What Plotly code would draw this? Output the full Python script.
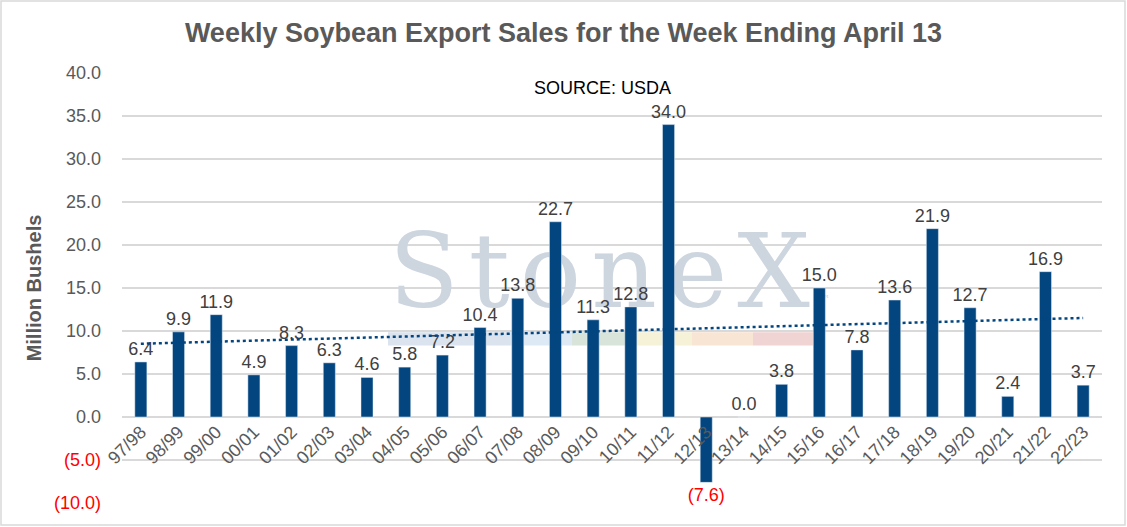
import plotly.graph_objects as go
import numpy as np

seasons = ["97/98", "98/99", "99/00", "00/01", "01/02", "02/03", "03/04", "04/05", "05/06",
           "06/07", "07/08", "08/09", "09/10", "10/11", "11/12", "12/13", "13/14", "14/15",
           "15/16", "16/17", "17/18", "18/19", "19/20", "20/21", "21/22", "22/23"]
sales = [6.4, 9.9, 11.9, 4.9, 8.3, 6.3, 4.6, 5.8, 7.2, 10.4, 13.8, 22.7, 11.3, 12.8, 34.0,
         -7.6, 0.0, 3.8, 15.0, 7.8, 13.6, 21.9, 12.7, 2.4, 16.9, 3.7]
y_ticks = [-10, -5, 0, 5, 10, 15, 20, 25, 30, 35, 40]

bar_col = "#02457F"
grey = "#595959"

def fmt(v):
    if v < 0:
        return "(%.1f)" % abs(v)
    return "%.1f" % v

labels = [fmt(v) for v in sales]
label_cols = ["#FF0000" if v < 0 else "#404040" for v in sales]
tick_text = ["<span style='color:#FF0000'>%s</span>" % fmt(t) if t < 0 else fmt(t) for t in y_ticks]

# linear trend like excel
idx = np.arange(1, len(sales) + 1)
slope, icpt = np.polyfit(idx, sales, 1)
trend = slope * idx + icpt

fig = go.Figure()

# watermark sits on the lower subplot so the bars cover it
fig.add_trace(go.Scatter(
    x=["09/10"], y=[15.7], mode="text",
    text=["&nbsp;<span style='letter-spacing:10px'>StoneX</span><span style='font-size:14px'><sup>™</sup></span>"],
    textfont=dict(family="DejaVu Serif", size=102, color="#CDD5DF"),
    textposition="middle center", hoverinfo="skip", showlegend=False,
    xaxis="x", yaxis="y"))

fig.add_trace(go.Bar(
    x=seasons, y=sales, marker_color=bar_col, text=labels,
    textposition="outside", textfont=dict(size=18, color=label_cols),
    constraintext="none", cliponaxis=False, showlegend=False,
    xaxis="x", yaxis="y2"))

fig.add_trace(go.Scatter(
    x=seasons, y=trend, mode="lines",
    line=dict(color=bar_col, width=2.5, dash="dot"),
    showlegend=False, xaxis="x", yaxis="y2"))

# colour stripe under the logo
stripe = [(388, 510, "#DBE3EE"), (510, 572, "#DDE9F5"), (572, 637, "#D8E4DA"),
          (637, 692, "#F5F2D8"), (692, 753, "#F8E5D3"), (753, 813, "#F0D3D3")]
ml, mr, mt, mb = 122, 25, 73, 24
pw = 1127 - ml - mr
ph = 527 - mt - mb
shapes = []
for a, b, c in stripe:
    shapes.append(dict(type="rect", xref="paper", yref="y", x0=(a - ml) / pw, x1=(b - ml) / pw,
                       y0=8.3, y1=9.85, fillcolor=c, line_width=0, layer="below"))
shapes.append(dict(type="rect", xref="paper", yref="paper",
                   x0=(1 - ml) / pw, x1=(1125 - ml) / pw,
                   y0=-(mb - 2) / ph, y1=(ph + mt - 1) / ph,
                   line=dict(color="#D9D9D9", width=1.5), fillcolor="rgba(0,0,0,0)"))

fig.update_layout(
    width=1127, height=527,
    margin=dict(l=ml, r=mr, t=mt, b=mb),
    paper_bgcolor="white", plot_bgcolor="white",
    font=dict(family="Liberation Sans, Arial", color=grey),
    title=dict(text="<b>Weekly Soybean Export Sales for the Week Ending April 13</b>",
               x=0.5, xanchor="center", y=1 - 32.5 / 527, yanchor="middle",
               font=dict(size=27, color=grey)),
    bargap=0.68,
    xaxis=dict(categoryorder="array", categoryarray=seasons, anchor="free",
               position=10 / 50, tickangle=-45, tickfont=dict(size=18, color=grey),
               showgrid=False, showline=False, ticks="", zeroline=False),
    yaxis=dict(range=[-10, 40], tickvals=y_ticks, ticktext=tick_text,
               tickfont=dict(size=18, color=grey), showgrid=True, gridcolor="#D9D9D9",
               gridwidth=1.5, zeroline=True, zerolinecolor="#D9D9D9", zerolinewidth=1.5,
               ticklabelstandoff=20,
               title=dict(text="<b>Million Bushels</b>", font=dict(size=20, color=grey),
                          standoff=6)),
    yaxis2=dict(range=[-10, 40], overlaying="y", visible=False),
    shapes=shapes,
    annotations=[dict(text="SOURCE: USDA", xref="paper", yref="paper",
                      x=(602 - ml) / pw, y=(503 - 88) / ph, yanchor="middle",
                      showarrow=False, font=dict(size=18, color="black"))],
)

fig.write_html("out.html", config={"displayModeBar": False},
               post_script="document.body.style.margin='0px';")
